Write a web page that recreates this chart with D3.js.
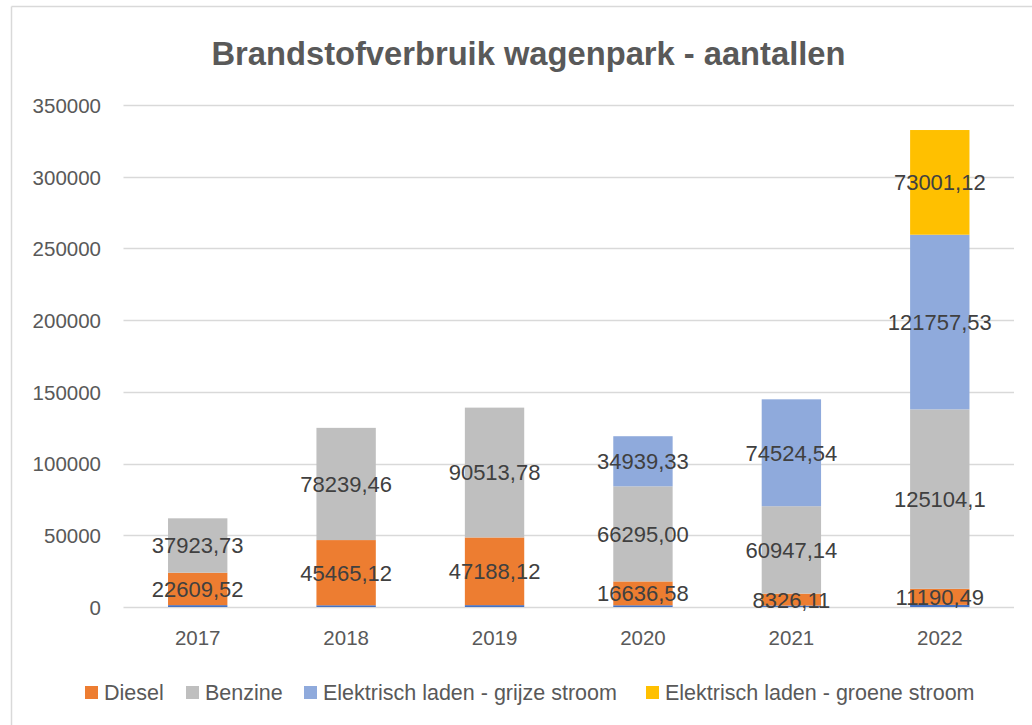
<!DOCTYPE html>
<html>
<head>
<meta charset="utf-8">
<script src="https://cdn.jsdelivr.net/npm/d3@7"></script>
<style>
  html, body { margin: 0; padding: 0; background: #fff; }
  svg { display: block; }
  text { font-family: "Liberation Sans", Arial, sans-serif; }
</style>
</head>
<body>
<svg id="chart" width="1032" height="725"></svg>
<script>
const years = ["2017", "2018", "2019", "2020", "2021", "2022"];
const seriesNames = ["Basis", "Diesel", "Benzine", "Elektrisch laden - grijze stroom", "Elektrisch laden - groene stroom"];
const basis = [1300, 1200, 1300, 1200, 1000, 1500];
const diesel = [22609.52, 45465.12, 47188.12, 16636.58, 8326.11, 11190.49];
const benzine = [37923.73, 78239.46, 90513.78, 66295.00, 60947.14, 125104.1];
const grijs = [0, 0, 0, 34939.33, 74524.54, 121757.53];
const groen = [0, 0, 0, 0, 0, 73001.12];
const labelsText = {
  "Diesel": ["22609,52", "45465,12", "47188,12", "16636,58", "8326,11", "11190,49"],
  "Benzine": ["37923,73", "78239,46", "90513,78", "66295,00", "60947,14", "125104,1"],
  "Elektrisch laden - grijze stroom": [null, null, null, "34939,33", "74524,54", "121757,53"],
  "Elektrisch laden - groene stroom": [null, null, null, null, null, "73001,12"]
};
const yTicks = [0, 50000, 100000, 150000, 200000, 250000, 300000, 350000];
const colors = {
  "Basis": "#4472C4",
  "Diesel": "#ED7D31",
  "Benzine": "#BFBFBF",
  "Elektrisch laden - grijze stroom": "#8FAADC",
  "Elektrisch laden - groene stroom": "#FFC000"
};
const legendNames = ["Diesel", "Benzine", "Elektrisch laden - grijze stroom", "Elektrisch laden - groene stroom"];

const table = years.map((y, i) => ({
  year: y,
  "Basis": basis[i],
  "Diesel": diesel[i],
  "Benzine": benzine[i],
  "Elektrisch laden - grijze stroom": grijs[i],
  "Elektrisch laden - groene stroom": groen[i]
}));

const svg = d3.select("#chart");
const W = 1032, H = 725;
const plot = { left: 123.5, right: 1014, top: 105, bottom: 607 };

// chart border (top and left visible)
svg.append("line").attr("x1", 11.5).attr("x2", W).attr("y1", 6.5).attr("y2", 6.5).attr("stroke", "#d9d9d9").attr("stroke-width", 1.5);
svg.append("line").attr("x1", 11.5).attr("x2", 11.5).attr("y1", 6.5).attr("y2", H).attr("stroke", "#d9d9d9").attr("stroke-width", 1.5);

// title
svg.append("text")
  .attr("x", 528.5).attr("y", 65)
  .attr("text-anchor", "middle")
  .attr("font-size", 32.7).attr("font-weight", "bold")
  .attr("fill", "#595959")
  .text("Brandstofverbruik wagenpark - aantallen");

const x = d3.scaleBand().domain(years).range([plot.left, plot.right]).paddingInner(0.6).paddingOuter(0.3);
const y = d3.scaleLinear().domain([0, 350000]).range([plot.bottom, plot.top]);

// gridlines
svg.append("g").selectAll("line").data(yTicks).join("line")
  .attr("x1", plot.left).attr("x2", plot.right)
  .attr("y1", d => Math.round(y(d)) + 0.5).attr("y2", d => Math.round(y(d)) + 0.5)
  .attr("stroke", "#d9d9d9").attr("stroke-width", 1.3);

// y axis labels
const yAxis = d3.axisLeft(y).tickValues(yTicks).tickSize(0).tickPadding(0).tickFormat(d => String(d));
const yg = svg.append("g").attr("transform", `translate(${101},0)`).call(yAxis);
yg.select(".domain").remove();
yg.selectAll("text").attr("font-size", 20.5).attr("fill", "#595959").attr("font-family", "Liberation Sans, Arial, sans-serif").attr("dy", "0.36em");

// x axis labels
const xAxis = d3.axisBottom(x).tickSize(0).tickPadding(0);
const xg = svg.append("g").attr("transform", `translate(0,${630})`).call(xAxis);
xg.select(".domain").remove();
xg.selectAll("text").attr("font-size", 20.5).attr("fill", "#595959").attr("font-family", "Liberation Sans, Arial, sans-serif").attr("dy", "0.71em");

// stacked bars
const stack = d3.stack().keys(seriesNames);
const stacked = stack(table);

const groups = svg.append("g").selectAll("g").data(stacked).join("g")
  .attr("fill", d => colors[d.key]);
groups.selectAll("rect").data(d => d.map(v => ({ key: d.key, v }))).join("rect")
  .attr("x", d => x(d.v.data.year))
  .attr("width", x.bandwidth())
  .attr("y", d => y(d.v[1]))
  .attr("height", d => Math.max(0, y(d.v[0]) - y(d.v[1])));

// data labels
const lg = svg.append("g");
stacked.forEach(s => {
  const texts = labelsText[s.key];
  if (!texts) return;
  s.forEach((v, i) => {
    if (!texts[i]) return;
    lg.append("text")
      .attr("x", x(v.data.year) + x.bandwidth() / 2)
      .attr("y", (y(v[0]) + y(v[1])) / 2)
      .attr("dy", "0.36em")
      .attr("text-anchor", "middle")
      .attr("font-size", 22)
      .attr("fill", "#404040")
      .text(texts[i]);
  });
});

// legend
const legendX = [85, 186, 304, 646];
const leg = svg.append("g");
legendNames.forEach((n, i) => {
  leg.append("rect").attr("x", legendX[i]).attr("y", 686).attr("width", 13).attr("height", 13).attr("fill", colors[n]);
  leg.append("text").attr("x", legendX[i] + 19).attr("y", 700)
    .attr("font-size", 21.5).attr("fill", "#595959").text(n);
});
</script>
</body>
</html>
